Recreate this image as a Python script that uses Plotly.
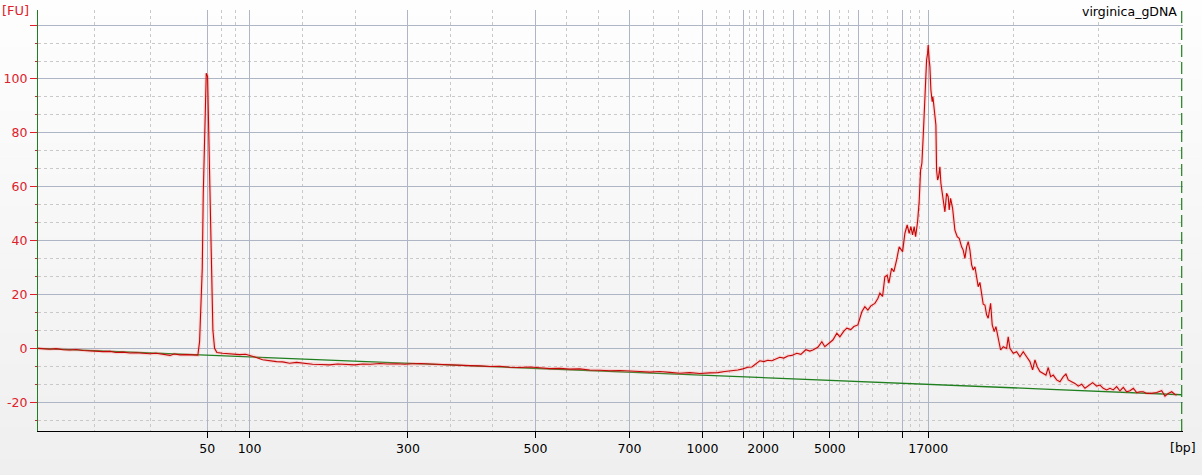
import plotly.graph_objects as go

# Ladder (size standard) migration positions (scan units) and their bp labels
ladder_pos = [169.2, 211.5, 369.8, 497.2, 591.2, 664.2, 704.8, 724.8, 754.8, 791.5, 819.8, 863.8, 889.8]
ladder_bp = ["50", "100", "300", "500", "700", "1000", "", "2000", "", "5000", "", "", "17000"]
x_end = 1144.5

# Sample signal (migration position, fluorescence units)
signal_x = [
    0, 6, 12, 18, 25, 32, 38, 45, 52, 58, 65, 72, 78, 85, 92, 98, 105, 112, 118, 125, 132, 136, 142, 148, 154,
    159.8, 161.5, 162.5, 163.2, 164.2, 165.2, 166.2, 166.8, 168.2, 169.5, 170.5, 171.5, 172.5, 173.5, 174.8,
    176.5, 178.8, 184.5, 189.5, 194.5, 201.5, 207.5, 211.5, 217.5, 224.5, 231.5, 238.5, 244.5, 251.5, 258.5,
    265.5, 274.5, 282.5, 291.5, 299.5, 308.5, 316.5, 324.5, 332.5, 341.5, 349.5, 358.5, 366.5, 374.5, 382.5,
    391.5, 401.5, 411.5, 421.5, 431.5, 441.5, 451.5, 461.5, 471.5, 481.5, 491.5, 501.5, 511.5, 521.5, 531.5,
    541.5, 551.5, 561.5, 571.5, 581.5, 591.5, 601.5, 611.5, 621.5, 631.5, 641.5, 651.5, 661.5, 671.5, 679.5,
    686.5, 693.5, 699.5, 704.5, 709.5, 713.5, 717.5, 721.5, 725.5, 729.5, 733.5, 737.5, 741.5, 745.5, 749.5,
    753.5, 758.5, 762.5, 767.5, 771.5, 774.5, 779.5, 783.5, 786.5, 790.5, 794.5, 798.5, 801.5, 805.5, 808.5,
    812.5, 815.5, 819.5, 823.5, 826.5, 829.5, 832.5, 836.5, 839.5, 841.5, 844.2, 846.5, 848.8, 850.5, 853.2,
    855.5, 858.2, 860.8, 864.2, 866.5, 868.8, 870.8, 872.5, 874.2, 875.8, 877.2, 879.2, 880.8, 882.2, 883.5,
    884.8, 886.2, 887.2, 888.2, 889.2, 889.8, 890.8, 891.5, 892.5, 893.8, 894.5, 895.5, 896.5, 897.5, 898.2,
    899.2, 900.2, 901.5, 902.5, 903.8, 905.5, 906.5, 908.2, 909.8, 910.8, 912.2, 914.2, 916.5, 918.8, 920.8,
    923.2, 924.8, 926.5, 928.2, 929.8, 931.5, 933.2, 934.8, 936.5, 938.2, 939.8, 941.5, 943.2, 944.8, 946.5,
    948.2, 949.8, 952.2, 953.8, 955.8, 957.5, 959.8, 962.2, 964.8, 968.2, 969.8, 971.5, 974.8, 978.2, 981.5,
    984.8, 988.2, 991.5, 994.2, 996.5, 998.8, 1001.5, 1004.8, 1007.5, 1009.8, 1012.2, 1014.8, 1018.2, 1021.5,
    1024.8, 1027.5, 1029.8, 1033.2, 1036.5, 1039.8, 1043.2, 1046.5, 1049.8, 1054.2, 1058.2, 1061.5, 1064.8,
    1068.2, 1071.5, 1074.8, 1078.2, 1081.5, 1084.8, 1088.2, 1091.5, 1094.8, 1098.2, 1101.5, 1104.8, 1108.2,
    1113.2, 1118.2, 1123.2, 1126.5, 1129.8, 1133.2, 1136.5, 1138.2,
]
signal_fu = [
    0.0, -0.2, -0.3, -0.1, -0.5, -0.6, -0.4, -0.8, -1.0, -0.9, -1.2, -1.1, -1.5, -1.4, -1.7, -1.6, -1.9, -2.0, -1.8, -2.3, -2.6, -2.1, -2.4, -2.3, -2.4,
    -2.5, 2.5, 10.5, 19.2, 29.7, 57.6, 72.4, 86.0, 102.1, 100.9, 83.6, 69.3, 53.9, 27.9, 6.8,
    0.0, -1.5, -1.8, -2.0, -2.2, -2.3, -2.2, -2.6, -3.3, -4.2, -4.6, -4.9, -5.0, -5.5, -5.2,
    -5.6, -5.9, -6.0, -6.1, -5.8, -5.9, -6.1, -5.8, -5.9, -5.6, -5.8, -5.7, -5.9, -5.7, -5.6,
    -5.8, -6.0, -6.0, -6.2, -6.4, -6.5, -6.7, -6.6, -7.0, -7.1, -6.9, -7.2, -7.5, -7.4, -7.7,
    -7.6, -8.0, -8.1, -8.3, -8.2, -8.5, -8.6, -8.8, -8.6, -8.9, -9.2, -9.0, -9.3, -9.1, -9.0,
    -8.6, -8.4, -8.0, -7.6, -7.0, -6.9, -5.8, -4.6, -4.9, -4.4, -4.6, -3.8, -3.3, -3.6, -2.8,
    -2.6, -1.8, -2.2, -0.5, -1.0, -0.6, 0.4, 2.5, 0.6, 1.8, 3.1, 5.6, 4.3, 6.4, 7.5,
    7.0, 8.1, 8.7, 13.6, 15.5, 14.2, 15.8, 16.7, 18.5, 20.5, 19.3, 26.6, 27.2, 24.2, 29.7,
    28.5, 32.8, 37.7, 35.9, 42.7, 45.8, 42.7, 45.2, 42.1, 45.2, 41.5, 47.0, 54.5, 66.2, 68.7,
    78.6, 91.0, 102.1, 107.0, 109.5, 112.6, 107.0, 104.6, 95.9, 91.6, 93.4, 89.1, 86.6, 82.9, 66.2,
    62.5, 63.7, 67.4, 61.3, 57.6, 53.9, 50.7, 57.6, 56.3, 51.4, 55.7, 52.0, 43.9, 41.5, 40.9,
    37.7, 36.5, 33.4, 37.7, 39.6, 36.5, 31.0, 29.1, 30.3, 26.0, 22.9, 24.5, 21.0, 16.4, 16.1,
    12.5, 11.2, 16.7, 8.7, 6.2, 8.1, 3.8, -0.6, 0.6, 0.0, 4.3, 0.0, -1.8, -1.2, -3.1,
    -1.2, -3.1, -4.9, -8.0, -4.3, -6.8, -8.6, -9.3, -9.9, -7.1, -10.5, -9.9, -11.7, -12.4,
    -10.5, -9.5, -11.7, -12.4, -13.0, -14.0, -13.3, -14.8, -14.0, -12.7, -14.0, -13.6, -14.8,
    -15.4, -14.8, -15.4, -14.2, -15.8, -14.5, -16.1, -15.7, -14.8, -16.4, -16.1, -16.1, -16.7,
    -16.7, -16.4, -15.7, -17.7, -16.7, -16.1, -17.1, -17.3,
]

# Baseline (green) read at a few positions
baseline_x = [0, 169, 211, 370, 497, 591, 664, 725, 792, 890, 1000, 1143]
baseline_fu = [0.0, -2.5, -3.2, -5.6, -7.5, -8.9, -10.0, -10.9, -11.9, -13.4, -15.0, -17.2]

# Y ticks
y_major = [-20, 0, 20, 40, 60, 80, 100, 120]
y_major_text = ["-20", "0", "20", "40", "60", "80", "100", ""]
y_range = [-30.66, 125.6]

RED = "#c40808"
LABEL_RED = "#e0202a"
GREEN = "#1f7f1f"
FONT = "DejaVu Sans"

# minor gridlines: thirds between consecutive ladder positions (incl. edges)
edges = [0.0] + ladder_pos + [x_end]
x_minor = []
for a, b in zip(edges[:-1], edges[1:]):
    x_minor += [a + (b - a) / 3, a + 2 * (b - a) / 3]
y_minor = []
for m in range(-40, 140, 20):
    y_minor += [m + 20 / 3, m + 40 / 3]
y_minor = [v for v in y_minor if y_range[0] < v < y_range[1]]

fig = go.Figure()
fig.add_trace(go.Scatter(x=baseline_x, y=baseline_fu, mode="lines",
                         line=dict(color=GREEN, width=1.3), hoverinfo="skip", showlegend=False))
fig.add_trace(go.Scatter(x=signal_x, y=signal_fu, mode="lines",
                         line=dict(color="rgba(255,120,120,0.25)", width=3.4), hoverinfo="skip", showlegend=False))
fig.add_trace(go.Scatter(x=signal_x, y=signal_fu, mode="lines",
                         line=dict(color=RED, width=1.1), showlegend=False))

W, H = 1202, 475
ml, mr, mt, mb = 38, 19, 10, 44
pw, ph = W - ml - mr, H - mt - mb

# background gradient over whole figure
shapes = []
n = 30
top_c, bot_c = (254, 254, 254), (239, 239, 239)
for i in range(n):
    y0px = H * i / n
    y1px = H * (i + 1) / n + 0.5
    f = (i + 0.5) / n
    c = tuple(round(top_c[k] + (bot_c[k] - top_c[k]) * f) for k in range(3))
    shapes.append(dict(type="rect", xref="paper", yref="paper", layer="below",
                       x0=-ml / pw, x1=(pw + mr) / pw,
                       y0=(H - mb - y1px) / ph, y1=(H - mb - y0px) / ph,
                       line=dict(width=0), fillcolor="rgb(%d,%d,%d)" % c))
# end-marker dashed green line
shapes.append(dict(type="line", xref="x", yref="paper", x0=1143.2, x1=1143.2, y0=0, y1=1,
                   line=dict(color=GREEN, width=1.2, dash="12px,5px"), layer="above"))

fig.update_layout(
    width=W, height=H,
    margin=dict(l=ml, r=mr, t=mt, b=mb, pad=0, autoexpand=False),
    paper_bgcolor="#f0f0f0", plot_bgcolor="rgba(0,0,0,0)",
    font=dict(family=FONT, size=12, color="#000000"),
    shapes=shapes,
    xaxis=dict(range=[0, x_end], tickmode="array", tickvals=ladder_pos, ticktext=ladder_bp,
               automargin=False,
               showgrid=True, gridcolor="#aeb5c4", gridwidth=1,
               showline=True, linecolor="#000000", linewidth=1,
               ticks="outside", ticklen=6, tickcolor="#000000", tickwidth=1,
               tickfont=dict(family=FONT, size=12.5, color="#000000"),
               zeroline=False,
               minor=dict(tickmode="array", tickvals=x_minor, showgrid=True, gridcolor="#c9c9c9",
                          griddash="3px,3px", gridwidth=1, ticks="")),
    yaxis=dict(range=y_range, tickmode="array", tickvals=y_major, ticktext=y_major_text,
               automargin=False,
               showgrid=True, gridcolor="#aeb5c4", gridwidth=1,
               showline=True, linecolor=GREEN, linewidth=1.3,
               ticks="outside", ticklen=7, tickcolor=LABEL_RED, tickwidth=1,
               tickfont=dict(family=FONT, size=12.5, color=LABEL_RED),
               zeroline=False,
               minor=dict(tickmode="array", tickvals=y_minor, showgrid=True, gridcolor="#c9c9c9",
                          griddash="3px,3px", gridwidth=1, ticks="outside", ticklen=2,
                          tickcolor=LABEL_RED)),
    annotations=[
        dict(text="[FU]", xref="paper", yref="paper", x=-ml / pw, y=1.0, xanchor="left", yanchor="middle",
             showarrow=False, font=dict(family=FONT, size=13, color=LABEL_RED)),
        dict(text="virginica_gDNA", xref="paper", yref="paper", x=(1179 - ml) / pw, y=1 - 1 / ph,
             xanchor="right", yanchor="middle", showarrow=False,
             font=dict(family=FONT, size=12.5, color="#000000")),
        dict(text="[bp]", xref="paper", yref="paper", x=(1168 - ml) / pw, y=-(448 - (H - mb)) / ph,
             xanchor="left", yanchor="middle", showarrow=False,
             font=dict(family=FONT, size=12.5, color="#000000")),
    ],
)

fig.write_html("out.html", config={"displayModeBar": False},
               post_script="document.body.style.margin='0';document.body.style.overflow='hidden';")
